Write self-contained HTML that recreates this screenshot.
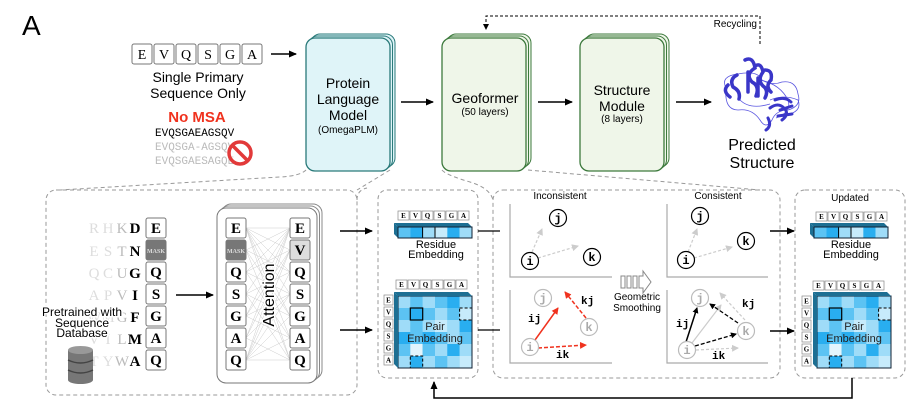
<!DOCTYPE html>
<html><head><meta charset="utf-8"><style>
html,body{margin:0;padding:0;background:#fff;}
svg{display:block;font-family:"Liberation Sans",sans-serif;}
.m{font-family:"Liberation Mono",monospace;}
.s{font-family:"Liberation Serif",serif;}
</style></head><body>
<svg width="920" height="413" viewBox="0 0 920 413" xmlns="http://www.w3.org/2000/svg">
<defs>
<marker id="ar" markerWidth="8" markerHeight="8" refX="7" refY="4" orient="auto" markerUnits="userSpaceOnUse"><path d="M0,0.5 L8,4 L0,7.5z" fill="#000"/></marker>
<marker id="ars" markerWidth="6" markerHeight="6" refX="5" refY="3" orient="auto" markerUnits="userSpaceOnUse"><path d="M0,0 L6,3 L0,6z" fill="#000"/></marker>
<marker id="arr" markerWidth="7" markerHeight="7" refX="6" refY="3.5" orient="auto" markerUnits="userSpaceOnUse"><path d="M0,0 L7,3.5 L0,7z" fill="#f0321e"/></marker>
<marker id="arg" markerWidth="7" markerHeight="7" refX="6" refY="3.5" orient="auto" markerUnits="userSpaceOnUse"><path d="M0,0 L7,3.5 L0,7z" fill="#ccc"/></marker>
<g id="mat">
<rect x="0" y="0" width="74" height="72" fill="#5cc3f3"/>
<rect x="0" y="0" width="12.4" height="12" fill="#9fdcf8"/><rect x="12.3" y="0" width="12.4" height="12" fill="#5cc3f3"/><rect x="24.6" y="0" width="12.4" height="12" fill="#9fdcf8"/><rect x="37" y="0" width="12.4" height="12" fill="#5cc3f3"/><rect x="49.3" y="0" width="12.4" height="12" fill="#29aef0"/><rect x="61.6" y="0" width="12.4" height="12" fill="#9fdcf8"/>
<rect x="0" y="12" width="12.4" height="12" fill="#5cc3f3"/><rect x="12.3" y="12" width="12.4" height="12" fill="#29aef0"/><rect x="24.6" y="12" width="12.4" height="12" fill="#5cc3f3"/><rect x="37" y="12" width="12.4" height="12" fill="#9fdcf8"/><rect x="49.3" y="12" width="12.4" height="12" fill="#5cc3f3"/><rect x="61.6" y="12" width="12.4" height="12" fill="#c7ebfb"/>
<rect x="0" y="24" width="12.4" height="12" fill="#9fdcf8"/><rect x="12.3" y="24" width="12.4" height="12" fill="#5cc3f3"/><rect x="24.6" y="24" width="12.4" height="12" fill="#9fdcf8"/><rect x="37" y="24" width="12.4" height="12" fill="#c7ebfb"/><rect x="49.3" y="24" width="12.4" height="12" fill="#9fdcf8"/><rect x="61.6" y="24" width="12.4" height="12" fill="#29aef0"/>
<rect x="0" y="36" width="12.4" height="12" fill="#29aef0"/><rect x="12.3" y="36" width="12.4" height="12" fill="#5cc3f3"/><rect x="24.6" y="36" width="12.4" height="12" fill="#29aef0"/><rect x="37" y="36" width="12.4" height="12" fill="#5cc3f3"/><rect x="49.3" y="36" width="12.4" height="12" fill="#9fdcf8"/><rect x="61.6" y="36" width="12.4" height="12" fill="#5cc3f3"/>
<rect x="0" y="48" width="12.4" height="12" fill="#5cc3f3"/><rect x="12.3" y="48" width="12.4" height="12" fill="#e3f5fd"/><rect x="24.6" y="48" width="12.4" height="12" fill="#5cc3f3"/><rect x="37" y="48" width="12.4" height="12" fill="#9fdcf8"/><rect x="49.3" y="48" width="12.4" height="12" fill="#29aef0"/><rect x="61.6" y="48" width="12.4" height="12" fill="#9fdcf8"/>
<rect x="0" y="60" width="12.4" height="12" fill="#9fdcf8"/><rect x="12.3" y="60" width="12.4" height="12" fill="#29aef0"/><rect x="24.6" y="60" width="12.4" height="12" fill="#9fdcf8"/><rect x="37" y="60" width="12.4" height="12" fill="#5cc3f3"/><rect x="49.3" y="60" width="12.4" height="12" fill="#9fdcf8"/><rect x="61.6" y="60" width="12.4" height="12" fill="#c7ebfb"/>
<rect x="12.3" y="12" width="12.4" height="12" fill="none" stroke="#000" stroke-width="1.2"/>
<rect x="61.6" y="12" width="12.4" height="12" fill="none" stroke="#000" stroke-dasharray="3,2"/>
<rect x="12.3" y="60" width="12.4" height="12" fill="none" stroke="#000" stroke-dasharray="3,2"/>
<rect x="0" y="0" width="74" height="72" fill="none" stroke="#123" stroke-width="1"/>
<path d="M0,0 l-4,-4 h74 l4,4 z" fill="#1d6f93"/><path d="M0,0 l-4,-4 v72 l4,4z" fill="#1d6f93"/>
<text x="37" y="34" font-size="11" text-anchor="middle" fill="#222">Pair</text>
<text x="37" y="46" font-size="11" text-anchor="middle" fill="#222">Embedding</text>
</g>
<g id="bar">
<path d="M0,0 l-4,-4 h74 l4,4z" fill="#1d6f93"/><path d="M0,0 l-4,-4 v11 l4,4z" fill="#1d6f93"/>
<rect x="0" y="0" width="12.4" height="11" fill="#5cc3f3"/><rect x="12.3" y="0" width="12.4" height="11" fill="#29aef0"/><rect x="24.6" y="0" width="12.4" height="11" fill="#9fdcf8"/><rect x="37" y="0" width="12.4" height="11" fill="#c7ebfb"/><rect x="49.3" y="0" width="12.4" height="11" fill="#29aef0"/><rect x="61.6" y="0" width="12.4" height="11" fill="#9fdcf8"/>
<rect x="24.6" y="0" width="12.4" height="11" fill="none" stroke="#000"/>
<rect x="0" y="0" width="74" height="11" fill="none" stroke="#123"/>
</g>
<g id="lab" class="s" font-size="7" text-anchor="middle" font-weight="bold">
<rect x="0" y="0" width="11" height="9" fill="#fff" stroke="#888" stroke-width="0.7"/><text x="5.5" y="7">E</text>
<rect x="12" y="0" width="11" height="9" fill="#fff" stroke="#888" stroke-width="0.7"/><text x="17.5" y="7">V</text>
<rect x="24" y="0" width="11" height="9" fill="#fff" stroke="#888" stroke-width="0.7"/><text x="29.5" y="7">Q</text>
<rect x="36" y="0" width="11" height="9" fill="#fff" stroke="#888" stroke-width="0.7"/><text x="41.5" y="7">S</text>
<rect x="48" y="0" width="11" height="9" fill="#fff" stroke="#888" stroke-width="0.7"/><text x="53.5" y="7">G</text>
<rect x="60" y="0" width="11" height="9" fill="#fff" stroke="#888" stroke-width="0.7"/><text x="65.5" y="7">A</text>
</g>
<g id="slab" class="s" font-size="7" text-anchor="middle" font-weight="bold">
<rect x="0" y="0" width="9" height="10" fill="#fff" stroke="#888" stroke-width="0.7"/><text x="4.5" y="7.5">E</text>
<rect x="0" y="12" width="9" height="10" fill="#fff" stroke="#888" stroke-width="0.7"/><text x="4.5" y="19.5">V</text>
<rect x="0" y="24" width="9" height="10" fill="#fff" stroke="#888" stroke-width="0.7"/><text x="4.5" y="31.5">Q</text>
<rect x="0" y="36" width="9" height="10" fill="#fff" stroke="#888" stroke-width="0.7"/><text x="4.5" y="43.5">S</text>
<rect x="0" y="48" width="9" height="10" fill="#fff" stroke="#888" stroke-width="0.7"/><text x="4.5" y="55.5">G</text>
<rect x="0" y="60" width="9" height="10" fill="#fff" stroke="#888" stroke-width="0.7"/><text x="4.5" y="67.5">A</text>
</g>
</defs>

<text x="22" y="35" font-size="28">A</text>

<!-- top sequence -->
<g class="s" font-size="14" text-anchor="middle">
<rect x="132" y="44" width="20" height="20" rx="2" fill="#fff" stroke="#777"/><text x="142" y="59">E</text>
<rect x="154" y="44" width="20" height="20" rx="2" fill="#fff" stroke="#777"/><text x="164" y="59">V</text>
<rect x="176" y="44" width="20" height="20" rx="2" fill="#fff" stroke="#777"/><text x="186" y="59">Q</text>
<rect x="198" y="44" width="20" height="20" rx="2" fill="#fff" stroke="#777"/><text x="208" y="59">S</text>
<rect x="220" y="44" width="20" height="20" rx="2" fill="#fff" stroke="#777"/><text x="230" y="59">G</text>
<rect x="242" y="44" width="20" height="20" rx="2" fill="#fff" stroke="#777"/><text x="252" y="59">A</text>
</g>
<line x1="271" y1="54" x2="296" y2="54" stroke="#000" stroke-width="1.5" marker-end="url(#ar)"/>
<text x="198" y="82" font-size="14" text-anchor="middle">Single Primary</text>
<text x="198" y="98" font-size="14" text-anchor="middle">Sequence Only</text>
<text x="197" y="122" font-size="15" font-weight="bold" fill="#f0321e" text-anchor="middle">No MSA</text>
<text x="155" y="136" class="m" font-size="11">EVQSGAEAGSQV</text>
<text x="155" y="150" class="m" font-size="11" fill="#bbb">EVQSGA-AGSQV</text>
<text x="155" y="164" class="m" font-size="11" fill="#bbb">EVQSGAESAGQE</text>
<circle cx="240" cy="153" r="11" fill="rgba(255,255,255,0.4)" stroke="#e23a3a" stroke-width="3.5"/>
<line x1="232.5" y1="145.5" x2="247.5" y2="160.5" stroke="#e23a3a" stroke-width="3.5"/>

<!-- PLM box -->
<rect x="311" y="34" width="84" height="133" rx="9" fill="#dff4f8" stroke="#2a7a7a"/>
<rect x="308.5" y="36" width="84" height="133" rx="9" fill="#dff4f8" stroke="#2a7a7a"/>
<rect x="306" y="38" width="84" height="133" rx="9" fill="#dff4f8" stroke="#2a7a7a" stroke-width="1.3"/>
<text x="348" y="88" font-size="14" text-anchor="middle">Protein</text>
<text x="348" y="104" font-size="14" text-anchor="middle">Language</text>
<text x="348" y="120" font-size="14" text-anchor="middle">Model</text>
<text x="348" y="133" font-size="10" text-anchor="middle">(OmegaPLM)</text>
<line x1="401" y1="102" x2="433" y2="102" stroke="#000" stroke-width="1.5" marker-end="url(#ar)"/>

<!-- Geoformer -->
<rect x="447" y="34" width="84" height="133" rx="9" fill="#eff6e9" stroke="#3d7a3d"/>
<rect x="444.5" y="36" width="84" height="133" rx="9" fill="#eff6e9" stroke="#3d7a3d"/>
<rect x="442" y="38" width="84" height="133" rx="9" fill="#eff6e9" stroke="#3d7a3d" stroke-width="1.3"/>
<text x="485" y="103" font-size="14" text-anchor="middle">Geoformer</text>
<text x="485" y="115" font-size="10" text-anchor="middle">(50 layers)</text>
<line x1="538" y1="102" x2="572" y2="102" stroke="#000" stroke-width="1.5" marker-end="url(#ar)"/>

<!-- Structure module -->
<rect x="585" y="34" width="84" height="133" rx="9" fill="#eff6e9" stroke="#3d7a3d"/>
<rect x="582.5" y="36" width="84" height="133" rx="9" fill="#eff6e9" stroke="#3d7a3d"/>
<rect x="580" y="38" width="84" height="133" rx="9" fill="#eff6e9" stroke="#3d7a3d" stroke-width="1.3"/>
<text x="622" y="95" font-size="14" text-anchor="middle">Structure</text>
<text x="622" y="111" font-size="14" text-anchor="middle">Module</text>
<text x="622" y="122" font-size="10" text-anchor="middle">(8 layers)</text>
<line x1="676" y1="102" x2="711" y2="102" stroke="#000" stroke-width="1.5" marker-end="url(#ar)"/>

<!-- protein -->
<g fill="none" stroke="#5a56e0" stroke-width="0.8">
<path d="M726,88 q-6,-12 12,-14 q20,-4 24,6 q10,6 20,2 q14,-2 16,12 q4,12 -10,16 q-12,0 -16,10 q-6,10 -12,0 q-8,-12 -22,-10 q-14,0 -12,-22z"/>
<path d="M760,80 q20,4 28,20 q4,12 -12,18 M740,100 q10,10 30,4 M770,100 q14,-6 28,0 q4,10 -8,14"/>
</g>
<g fill="none" stroke="#3a36c8" stroke-width="3.5" stroke-linecap="round">
<path d="M745,60 q8,-4 10,8 q-10,6 -3,14 q8,4 4,14 M755,66 q6,-4 8,6 q-6,8 0,14 q6,4 2,12 M765,70 q8,0 6,10 q-6,6 0,12 M737,75 q-8,4 -4,12 q8,4 6,12 M728,85 q-6,6 2,12 M748,72 v20 M758,78 v18"/>
<path d="M770,108 q8,-6 14,0 q6,6 -2,12 M775,100 q10,-4 16,2 M768,118 q4,8 -2,12 M780,110 l12,-4 M778,116 l14,-2" stroke-width="3"/>
</g>
<text x="762" y="150" font-size="16" text-anchor="middle">Predicted</text>
<text x="762" y="168" font-size="16" text-anchor="middle">Structure</text>

<!-- recycling -->
<path d="M760,44 V16 H486 V29" fill="none" stroke="#000" stroke-dasharray="3,2" marker-end="url(#ars)"/>
<text x="757" y="27" font-size="10" text-anchor="end">Recycling</text>

<!-- zoom lines -->
<path d="M306,170 Q300,176 280,177 L60,190" fill="none" stroke="#999" stroke-dasharray="4,3"/>
<path d="M390,170 L357,190" fill="none" stroke="#999" stroke-dasharray="4,3"/>
<path d="M442,170 Q446,175 470,182 Q490,188 493,200" fill="none" stroke="#999" stroke-dasharray="4,3"/>
<path d="M528,170 L760,190" fill="none" stroke="#999" stroke-dasharray="4,3"/>

<!-- bottom boxes -->
<rect x="46" y="190" width="311" height="205" rx="10" fill="none" stroke="#999" stroke-dasharray="4,3"/>
<path d="M357,200 Q357,190 367,188" fill="none" stroke="#999" stroke-dasharray="4,3"/>
<rect x="378" y="190" width="100" height="188" rx="9" fill="none" stroke="#999" stroke-dasharray="4,3"/>
<rect x="493" y="190" width="287" height="188" rx="10" fill="none" stroke="#999" stroke-dasharray="4,3"/>
<rect x="795" y="190" width="110" height="188" rx="10" fill="none" stroke="#999" stroke-dasharray="4,3"/>

<!-- left panel letters -->
<g class="s" font-size="15" text-anchor="middle">
<g fill="#ddd"><text x="94" y="233">R</text><text x="108" y="233">H</text><text x="122" y="233" fill="#bbb">K</text>
<text x="94" y="256">E</text><text x="108" y="256">S</text><text x="122" y="256" fill="#bbb">T</text>
<text x="94" y="278">Q</text><text x="108" y="278">C</text><text x="122" y="278" fill="#bbb">U</text>
<text x="94" y="300">A</text><text x="108" y="300">P</text><text x="122" y="300" fill="#bbb">V</text>
<text x="94" y="322">W</text><text x="108" y="322">M</text><text x="122" y="322" fill="#bbb">G</text>
<text x="94" y="344">V</text><text x="108" y="344">I</text><text x="122" y="344" fill="#bbb">L</text>
<text x="94" y="366">T</text><text x="108" y="366">Y</text><text x="122" y="366" fill="#bbb">W</text></g>
<g font-weight="bold"><text x="135" y="233">D</text><text x="135" y="256">N</text><text x="135" y="278">G</text><text x="135" y="300">I</text><text x="135" y="322">F</text><text x="135" y="344">M</text><text x="135" y="366">A</text></g>
</g>
<g class="s" font-size="15" text-anchor="middle" font-weight="bold">
<rect x="146" y="218" width="20" height="20" rx="2" fill="#fff" stroke="#777"/><text x="156" y="233">E</text>
<rect x="146" y="240" width="20" height="20" rx="2" fill="#777" stroke="#777"/><text x="156" y="253" font-size="6" fill="#ddd">MASK</text>
<rect x="146" y="262" width="20" height="20" rx="2" fill="#fff" stroke="#777"/><text x="156" y="277">Q</text>
<rect x="146" y="284" width="20" height="20" rx="2" fill="#fff" stroke="#777"/><text x="156" y="299">S</text>
<rect x="146" y="306" width="20" height="20" rx="2" fill="#fff" stroke="#777"/><text x="156" y="321">G</text>
<rect x="146" y="328" width="20" height="20" rx="2" fill="#fff" stroke="#777"/><text x="156" y="343">A</text>
<rect x="146" y="350" width="20" height="20" rx="2" fill="#fff" stroke="#777"/><text x="156" y="365">Q</text>
</g>
<g font-size="12" text-anchor="middle" stroke="#fff" stroke-width="3" paint-order="stroke">
<text x="82" y="316">Pretrained with</text><text x="82" y="327">Sequence</text><text x="82" y="337">Database</text></g>
<g>
<rect x="68" y="350" width="25" height="30" fill="#777"/>
<ellipse cx="80.5" cy="380" rx="12.5" ry="4" fill="#777"/>
<ellipse cx="80.5" cy="350" rx="12.5" ry="4" fill="#999"/>
<path d="M68,360 q12.5,6 25,0 M68,370 q12.5,6 25,0" stroke="#444" fill="none" stroke-width="1.5"/>
</g>
<line x1="176" y1="295" x2="213" y2="295" stroke="#000" stroke-width="1.5" marker-end="url(#ar)"/>

<!-- attention -->
<rect x="222" y="204" width="100" height="175" rx="9" fill="#fff" stroke="#888"/>
<rect x="219.5" y="206" width="100" height="175" rx="9" fill="#fff" stroke="#888"/>
<rect x="217" y="208" width="100" height="175" rx="9" fill="#fff" stroke="#777"/>
<g stroke="#ccc" stroke-width="0.5">
<path d="M246,228 L290,228 M246,228 L290,250 M246,228 L290,272 M246,228 L290,294 M246,228 L290,316 M246,228 L290,338 M246,228 L290,360
M246,250 L290,228 M246,250 L290,272 M246,250 L290,316 M246,250 L290,360
M246,272 L290,228 M246,272 L290,250 M246,272 L290,294 M246,272 L290,338
M246,294 L290,228 M246,294 L290,272 M246,294 L290,316 M246,294 L290,360
M246,316 L290,228 M246,316 L290,250 M246,316 L290,294 M246,316 L290,338
M246,338 L290,250 M246,338 L290,294 M246,338 L290,360 M246,338 L290,228
M246,360 L290,228 M246,360 L290,250 M246,360 L290,272 M246,360 L290,294 M246,360 L290,316 M246,360 L290,338 M246,360 L290,360"/>
</g>
<g class="s" font-size="15" text-anchor="middle" font-weight="bold">
<rect x="226" y="218" width="20" height="20" rx="2" fill="#fff" stroke="#777"/><text x="236" y="233">E</text>
<rect x="226" y="240" width="20" height="20" rx="2" fill="#777" stroke="#777"/><text x="236" y="253" font-size="6" fill="#ddd">MASK</text>
<rect x="226" y="262" width="20" height="20" rx="2" fill="#fff" stroke="#777"/><text x="236" y="277">Q</text>
<rect x="226" y="284" width="20" height="20" rx="2" fill="#fff" stroke="#777"/><text x="236" y="299">S</text>
<rect x="226" y="306" width="20" height="20" rx="2" fill="#fff" stroke="#777"/><text x="236" y="321">G</text>
<rect x="226" y="328" width="20" height="20" rx="2" fill="#fff" stroke="#777"/><text x="236" y="343">A</text>
<rect x="226" y="350" width="20" height="20" rx="2" fill="#fff" stroke="#777"/><text x="236" y="365">Q</text>
<rect x="290" y="218" width="20" height="20" rx="2" fill="#fff" stroke="#777"/><text x="300" y="233">E</text>
<rect x="290" y="240" width="20" height="20" rx="2" fill="#ddd" stroke="#777"/><text x="300" y="255">V</text>
<rect x="290" y="262" width="20" height="20" rx="2" fill="#fff" stroke="#777"/><text x="300" y="277">Q</text>
<rect x="290" y="284" width="20" height="20" rx="2" fill="#fff" stroke="#777"/><text x="300" y="299">S</text>
<rect x="290" y="306" width="20" height="20" rx="2" fill="#fff" stroke="#777"/><text x="300" y="321">G</text>
<rect x="290" y="328" width="20" height="20" rx="2" fill="#fff" stroke="#777"/><text x="300" y="343">A</text>
<rect x="290" y="350" width="20" height="20" rx="2" fill="#fff" stroke="#777"/><text x="300" y="365">Q</text>
</g>
<text transform="translate(274,295) rotate(-90)" font-size="16" text-anchor="middle" stroke="#fff" stroke-width="3" paint-order="stroke">Attention</text>

<line x1="340" y1="231" x2="372" y2="231" stroke="#000" stroke-width="1.5" marker-end="url(#ar)"/>
<line x1="340" y1="330" x2="372" y2="330" stroke="#000" stroke-width="1.5" marker-end="url(#ar)"/>

<!-- embeddings -->
<use href="#lab" x="398" y="211"/>
<use href="#bar" x="398" y="227"/>
<text x="436" y="248" font-size="11" text-anchor="middle">Residue</text>
<text x="436" y="258" font-size="11" text-anchor="middle">Embedding</text>
<use href="#lab" x="396" y="280"/>
<use href="#slab" x="384" y="295"/>
<use href="#mat" x="398" y="296"/>

<line x1="478" y1="231" x2="500" y2="231" stroke="#000" stroke-width="1.2"/>
<line x1="478" y1="330" x2="500" y2="330" stroke="#000" stroke-width="1.2"/>

<!-- geometry panels -->
<text x="560" y="199" font-size="10" text-anchor="middle">Inconsistent</text>
<text x="718" y="199" font-size="10" text-anchor="middle">Consistent</text>
<path d="M510,204 V277 H612 M510,290 V363 H612 M667,204 V277 H768 M667,290 V363 H768" fill="none" stroke="#aaa" stroke-width="1.2"/>
<g stroke="#ccc" stroke-width="1.2" stroke-dasharray="3,2" fill="none">
<line x1="532" y1="252" x2="542" y2="229" marker-end="url(#arg)"/>
<line x1="538" y1="258" x2="578" y2="246" marker-end="url(#arg)"/>
<line x1="688" y1="252" x2="697" y2="229" marker-end="url(#arg)"/>
<line x1="694" y1="258" x2="732" y2="247" marker-end="url(#arg)"/>
<line x1="745" y1="320" x2="720" y2="293" marker-end="url(#arg)"/>
<line x1="696" y1="350" x2="738" y2="348" marker-end="url(#arg)"/>
</g>
<line x1="692" y1="343" x2="721" y2="305" stroke="#ccc" stroke-width="1.2" marker-end="url(#arg)"/>
<g class="m" font-size="12" font-weight="bold" text-anchor="middle">
<circle cx="558" cy="218" r="8.5" fill="#fff" stroke="#000" stroke-width="1.2"/><text x="558" y="222">j</text>
<circle cx="530" cy="261" r="8.5" fill="#fff" stroke="#000" stroke-width="1.2"/><text x="530" y="265">i</text>
<circle cx="592" cy="257" r="8.5" fill="#fff" stroke="#000" stroke-width="1.2"/><text x="592" y="261">k</text>
<circle cx="700" cy="216" r="8.5" fill="#fff" stroke="#000" stroke-width="1.2"/><text x="700" y="220">j</text>
<circle cx="686" cy="260" r="8.5" fill="#fff" stroke="#000" stroke-width="1.2"/><text x="686" y="264">i</text>
<circle cx="746" cy="241" r="8.5" fill="#fff" stroke="#000" stroke-width="1.2"/><text x="746" y="245">k</text>
</g>
<!-- inconsistent bottom -->
<line x1="535" y1="340" x2="558" y2="308" stroke="#f0321e" stroke-width="1.5" marker-end="url(#arr)"/>
<line x1="538" y1="348" x2="586" y2="345" stroke="#f0321e" stroke-width="1.5" stroke-dasharray="4,2" marker-end="url(#arr)"/>
<line x1="586" y1="318" x2="565" y2="292" stroke="#f0321e" stroke-width="1.5" stroke-dasharray="4,2" marker-end="url(#arr)"/>
<!-- consistent bottom -->
<line x1="686" y1="342" x2="697" y2="308" stroke="#000" stroke-width="1.5" marker-end="url(#ars)"/>
<line x1="695" y1="346" x2="736" y2="334" stroke="#000" stroke-width="1.3" stroke-dasharray="4,2" marker-end="url(#ars)"/>
<line x1="738" y1="323" x2="710" y2="304" stroke="#000" stroke-width="1.3" stroke-dasharray="4,2" marker-end="url(#ars)"/>
<g class="m" font-size="12" font-weight="bold" text-anchor="middle">
<circle cx="543" cy="298" r="8.5" fill="#fff" stroke="#bbb" stroke-width="1.2"/><text x="543" y="302" fill="#aaa">j</text>
<circle cx="589" cy="327" r="8.5" fill="#fff" stroke="#bbb" stroke-width="1.2"/><text x="589" y="331" fill="#aaa">k</text>
<circle cx="530" cy="347" r="8.5" fill="#fff" stroke="#bbb" stroke-width="1.2"/><text x="530" y="351" fill="#aaa">i</text>
<circle cx="700" cy="298" r="8.5" fill="#fff" stroke="#bbb" stroke-width="1.2"/><text x="700" y="302" fill="#aaa">j</text>
<circle cx="746" cy="331" r="8.5" fill="#fff" stroke="#bbb" stroke-width="1.2"/><text x="746" y="335" fill="#aaa">k</text>
<circle cx="687" cy="350" r="8.5" fill="#fff" stroke="#bbb" stroke-width="1.2"/><text x="687" y="354" fill="#aaa">i</text>
</g>
<g class="m" font-size="11" font-weight="bold">
<text x="528" y="322">ij</text><text x="581" y="304">kj</text><text x="556" y="358">ik</text>
<text x="676" y="327">ij</text><text x="742" y="307">kj</text><text x="712" y="359">ik</text>
</g>
<!-- smoothing arrow -->
<g fill="#fff" stroke="#888" stroke-width="1">
<rect x="621" y="276" width="4" height="12"/><rect x="627" y="276" width="4" height="12"/><rect x="633" y="276" width="4" height="12"/>
<path d="M639,276 h4 v-5 l8,11 l-8,11 v-5 h-4z"/>
</g>
<text x="637" y="300" font-size="10" text-anchor="middle">Geometric</text>
<text x="637" y="311" font-size="10" text-anchor="middle">Smoothing</text>

<line x1="770" y1="231" x2="794" y2="231" stroke="#000" stroke-width="1.5" marker-end="url(#ar)"/>
<line x1="770" y1="331" x2="794" y2="331" stroke="#000" stroke-width="1.5" marker-end="url(#ar)"/>

<!-- updated -->
<text x="850" y="201" font-size="10" text-anchor="middle">Updated</text>
<use href="#lab" x="816" y="212"/>
<use href="#bar" x="814" y="227"/>
<text x="851" y="248" font-size="11" text-anchor="middle">Residue</text>
<text x="851" y="258" font-size="11" text-anchor="middle">Embedding</text>
<use href="#lab" x="813" y="281"/>
<use href="#slab" x="802" y="296"/>
<use href="#mat" x="817" y="296"/>

<!-- feedback -->
<path d="M852,378 V398 H434 V382" fill="none" stroke="#000" stroke-width="1.5" marker-end="url(#ar)"/>
</svg>
</body></html>
